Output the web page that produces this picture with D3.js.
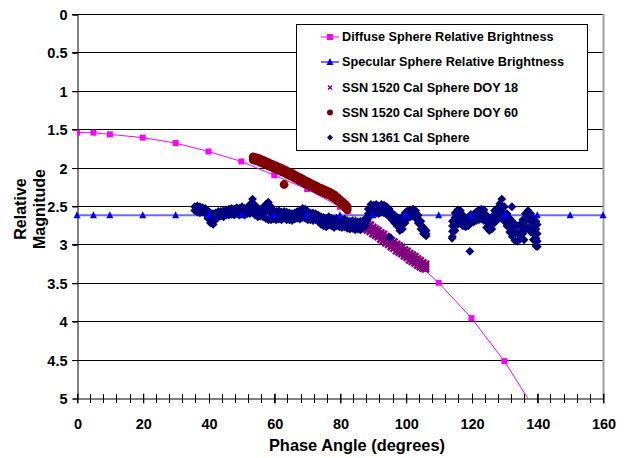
<!DOCTYPE html>
<html><head><meta charset="utf-8">
<script src="https://cdn.jsdelivr.net/npm/d3@7"></script>
<style>body{margin:0;background:#fff}text{font-family:"Liberation Sans",Arial,sans-serif;font-weight:bold;fill:#000}</style>
</head><body>
<svg id="c" width="626" height="458"></svg>
<script>
// ---- data ----
const xTickValues = [0,20,40,60,80,100,120,140,160];
const yTickValues = [0,0.5,1,1.5,2,2.5,3,3.5,4,4.5,5];
const modelPhase = [0,5,10,20,30,40,50,60,70,80,90,100,110,120,130,140,150,160];
const diffuseMag = [1.545,1.545,1.567,1.61,1.68,1.79,1.92,2.10,2.28,2.51,2.79,3.11,3.50,3.96,4.52,5.2];
const specularMag = [2.62,2.62,2.62,2.62,2.62,2.62,2.62,2.62,2.62,2.62,2.62,2.62,2.62,2.62,2.62,2.62,2.62,2.62];
const seriesNames = ["Diffuse Sphere Relative Brightness","Specular Sphere Relative Brightness","SSN 1520 Cal Sphere DOY 18","SSN 1520 Cal Sphere DOY 60","SSN 1361 Cal Sphere"];
// observed: [phase, magnitude, magnitude, ...]
const doy18 = [[87.6,2.71,2.75,2.79],[88.4,2.73,2.77,2.81],[89.2,2.75,2.79,2.83],[90.0,2.78,2.82,2.86],[90.8,2.80,2.84,2.88],[91.6,2.82,2.86,2.90],[92.4,2.85,2.89,2.93],[93.2,2.87,2.91,2.95],[94.0,2.90,2.94,2.98],[94.8,2.92,2.96,3.00],[95.6,2.95,2.99,3.03],[96.4,2.97,3.01,3.05],[97.2,3.00,3.04,3.08],[98.0,3.02,3.06,3.10],[98.8,3.04,3.08,3.12],[99.6,3.07,3.11,3.15],[100.4,3.09,3.13,3.17],[101.2,3.12,3.16,3.20],[102.0,3.14,3.18,3.22],[102.8,3.16,3.20,3.24],[103.6,3.19,3.23,3.27],[104.4,3.21,3.25,3.29],[105.2,3.24,3.28,3.31],[106.0,3.26,3.29,3.32]];
const doy60 = [[53.6,1.86,1.90],[54.4,1.87,1.91],[55.2,1.88,1.92],[56.0,1.895,1.935],[56.8,1.91,1.95],[57.6,1.925,1.965],[58.4,1.94,1.98],[59.2,1.955,1.995],[60.0,1.97,2.01],[60.8,1.985,2.025],[61.6,2.00,2.04],[62.4,2.015,2.055],[63.2,2.03,2.07],[64.0,2.05,2.09],[64.8,2.065,2.105],[65.6,2.08,2.12],[66.4,2.10,2.14],[67.2,2.12,2.16],[68.0,2.135,2.175],[68.8,2.155,2.195],[69.6,2.175,2.215],[70.4,2.19,2.23],[71.2,2.21,2.25],[72.0,2.225,2.265],[72.8,2.24,2.28],[73.6,2.26,2.30],[74.4,2.275,2.315],[75.2,2.29,2.33],[76.0,2.305,2.345],[76.8,2.32,2.36],[77.6,2.34,2.38],[78.4,2.36,2.40],[79.2,2.39,2.43],[80.0,2.42,2.46],[80.8,2.45,2.49],[81.6,2.48,2.52],[82.2,2.51,2.55],[63.0,2.22]];
const ssn1361 = [
[35.8,2.51,2.56],[36.6,2.50,2.54,2.58],[37.4,2.51,2.55,2.59],[38.2,2.52,2.55,2.58],[39.0,2.53,2.56,2.60],[39.8,2.56,2.61,2.66],[40.6,2.59,2.65,2.72],[41.4,2.60,2.67,2.74],[42.2,2.59,2.63,2.68],[43.0,2.57,2.60,2.64],[43.8,2.57,2.60,2.63],[44.6,2.56,2.60,2.64],[45.4,2.56,2.59,2.62],[46.2,2.54,2.58,2.62],[47.0,2.53,2.57,2.61],[47.8,2.54,2.58,2.62],[48.6,2.52,2.56,2.60],[49.4,2.53,2.57,2.62],[50.2,2.51,2.56,2.60],[51.0,2.53,2.57,2.62],[51.8,2.52,2.56,2.60],[52.6,2.48,2.54,2.60],[53.4,2.41,2.50,2.58],[54.2,2.49,2.55,2.62],[55.0,2.53,2.58,2.64],[55.8,2.54,2.58,2.63],[56.6,2.52,2.58,2.64],[57.4,2.48,2.57,2.66],[58.2,2.45,2.56,2.68],[59.0,2.51,2.60,2.68],[59.8,2.56,2.62,2.67],[60.6,2.57,2.62,2.68],[61.4,2.56,2.62,2.67],[62.2,2.58,2.63,2.68],[63.0,2.57,2.62,2.66],[63.8,2.58,2.63,2.68],[64.6,2.59,2.64,2.68],[65.4,2.60,2.64,2.69],[66.2,2.59,2.63,2.67],[67.0,2.57,2.62,2.66],[67.8,2.56,2.62,2.67],[68.6,2.53,2.59,2.65],[69.4,2.54,2.60,2.66],[70.2,2.57,2.62,2.68],[71.0,2.59,2.64,2.68],[71.8,2.59,2.64,2.69],[72.6,2.60,2.64,2.68],[73.4,2.62,2.66,2.70],[74.2,2.64,2.69,2.74],[75.0,2.65,2.70,2.76],[75.8,2.66,2.72,2.77],[76.6,2.64,2.70,2.75],[77.4,2.66,2.71,2.76],[78.2,2.67,2.72,2.78],[79.0,2.66,2.71,2.76],[79.8,2.67,2.72,2.77],[80.6,2.68,2.73,2.78],[81.4,2.67,2.72,2.77],[82.2,2.69,2.74,2.79],[83.0,2.70,2.75,2.80],[83.8,2.69,2.74,2.79],[84.6,2.70,2.76,2.81],[85.4,2.71,2.76,2.80],[86.2,2.70,2.76,2.81],[87.0,2.70,2.74,2.79],[87.8,2.66,2.71,2.76],[88.6,2.54,2.60,2.66],[89.4,2.48,2.54,2.60],[90.2,2.49,2.54,2.58],[91.0,2.48,2.54,2.59],[91.8,2.50,2.55,2.60],[92.6,2.48,2.53,2.58],[93.4,2.49,2.54,2.59],[94.2,2.51,2.56,2.61],[95.0,2.54,2.59,2.64],[95.8,2.59,2.64,2.68],[96.6,2.62,2.67,2.72],[97.4,2.65,2.70,2.76],[98.2,2.66,2.74,2.82],[99.0,2.64,2.72,2.80],[99.8,2.59,2.66,2.72],[100.6,2.56,2.61,2.66],[101.4,2.55,2.60,2.64],[102.2,2.54,2.59,2.63],[103.0,2.56,2.61,2.66],[103.8,2.62,2.67,2.72],[104.6,2.70,2.75,2.80],[105.4,2.78,2.82,2.86],[106.2,2.82,2.86,2.89],[95.2,2.91],
[114.2,2.70,2.76,2.83,2.90],[115.0,2.59,2.65,2.72,2.82],[115.8,2.55,2.62,2.68,2.74],[116.6,2.56,2.63,2.69,2.73],[117.4,2.62,2.68,2.76],[118.2,2.66,2.71,2.77],[119.0,2.65,2.70,2.76],[119.8,2.61,2.67,2.72],[120.6,2.61,2.66,2.71],[121.4,2.58,2.64,2.69],[122.2,2.55,2.61,2.68],[123.0,2.54,2.60,2.67],[123.8,2.55,2.62,2.69],[124.6,2.62,2.70,2.78],[125.4,2.66,2.74,2.82],[126.2,2.64,2.72,2.80],[127.0,2.56,2.64,2.72],[127.8,2.53,2.61,2.68],[128.6,2.47,2.56,2.66],[129.2,2.41,2.50,2.58,2.64],[130.0,2.51,2.60,2.70],[130.8,2.60,2.68,2.76],[131.6,2.66,2.75,2.84],[132.4,2.70,2.79,2.90],[133.2,2.74,2.84,2.95],[134.0,2.76,2.86,2.96],[134.8,2.74,2.84,2.93],[135.6,2.68,2.77,2.86],[136.4,2.60,2.70,2.80],[137.2,2.56,2.66,2.78],[138.0,2.60,2.70,2.80,2.84],[138.8,2.66,2.76,2.86,2.94],[139.6,2.70,2.80,2.92,3.02],[140.0,2.74,2.86,2.96,3.03],[119.5,3.09],[132.3,2.51],[136.0,2.94],[114.1,2.92]
];

// ---- chart ----
const svg = d3.select("#c");
const x = d3.scaleLinear().domain([0,160]).range([77,603]);
const y = d3.scaleLinear().domain([0,5]).range([14,398]);
const flat = rows => rows.flatMap(r => r.slice(1).map(v => [r[0], v]));

svg.append("defs").append("clipPath").attr("id","clip")
  .append("rect").attr("x",77).attr("y",14).attr("width",526).attr("height",384);

// gridlines
svg.append("g").selectAll("line").data(yTickValues.slice(0,-1)).join("line")
  .attr("x1",72).attr("x2",603).attr("y1",d=>Math.round(y(d))+0.5).attr("y2",d=>Math.round(y(d))+0.5)
  .attr("stroke","#000").attr("stroke-width",1);
// right border
svg.append("line").attr("x1",603.5).attr("x2",603.5).attr("y1",14).attr("y2",398).attr("stroke","#a0a0a0").attr("stroke-width",2);

// y axis
const yAxis = d3.axisLeft(y).tickValues(yTickValues).tickSize(5).tickPadding(5).tickFormat(d3.format("~g"));
const gy = svg.append("g").attr("transform","translate(77.5,0.5)").call(yAxis);
gy.select(".domain").attr("stroke","#000");
gy.selectAll("text").style("font-size","14.5px").attr("dy","0.35em");

// x axis (minor ticks every 4, major every 20, crossing)
const minor = d3.range(0,161,4);
svg.append("g").selectAll("line").data(minor).join("line")
  .attr("x1",d=>Math.round(x(d))+0.5).attr("x2",d=>Math.round(x(d))+0.5).attr("y1",394).attr("y2",403)
  .attr("stroke","#000");
const xAxis = d3.axisBottom(x).tickValues(xTickValues).tickSizeInner(5).tickSizeOuter(0).tickPadding(15);
const gx = svg.append("g").attr("transform","translate(0.5,398.5)").call(xAxis);
gx.select(".domain").attr("stroke","#000");
gx.selectAll(".tick line").attr("y1",-5);
gx.selectAll("text").style("font-size","14.5px");

const plot = svg.append("g").attr("clip-path","url(#clip)");

// Diffuse
const diffusePts = diffuseMag.map((v,i)=>[modelPhase[i],v]);
plot.append("path").datum(diffusePts).attr("fill","none").attr("stroke","#ff00ff").attr("stroke-width",1)
  .attr("d",d3.line().x(d=>x(d[0])).y(d=>y(d[1])));
plot.append("g").selectAll("rect").data(diffusePts).join("rect")
  .attr("x",d=>x(d[0])-3).attr("y",d=>y(d[1])-3).attr("width",6).attr("height",6).attr("fill","#ff00ff");

// Specular
const specPts = specularMag.map((v,i)=>[modelPhase[i],v]);
plot.append("path").datum(specPts).attr("fill","none").attr("stroke","#6a6aff").attr("stroke-width",2)
  .attr("d",d3.line().x(d=>x(d[0])).y(d=>y(d[1])));
const tri = "M0,-4L3.5,3L-3.5,3Z";
svg.append("g").selectAll("path").data(specPts).join("path")
  .attr("transform",d=>`translate(${x(d[0])},${y(d[1])})`).attr("d",tri).attr("fill","#0000ff");

// DOY 18
const xMark = "M-3.5,-3.5L3.5,3.5M-3.5,3.5L3.5,-3.5";
plot.append("g").selectAll("path").data(flat(doy18)).join("path")
  .attr("transform",d=>`translate(${x(d[0])},${y(d[1])})`).attr("d",xMark)
  .attr("stroke","#800080").attr("stroke-width",2.5).attr("fill","none");
// DOY 60
plot.append("g").selectAll("circle").data(flat(doy60)).join("circle")
  .attr("cx",d=>x(d[0])).attr("cy",d=>y(d[1])).attr("r",4.4).attr("fill","#800000");
// SSN 1361
const diamond = "M0,-4.4L4.4,0L0,4.4L-4.4,0Z";
plot.append("g").selectAll("path").data(flat(ssn1361)).join("path")
  .attr("transform",d=>`translate(${x(d[0])},${y(d[1])})`).attr("d",diamond).attr("fill","#000080");

// axis titles
svg.append("text").attr("x",357).attr("y",451).attr("text-anchor","middle").style("font-size","16.4px").text("Phase Angle (degrees)");
const yt = svg.append("text").attr("transform","translate(0,209) rotate(-90)").attr("text-anchor","middle").style("font-size","16px");
yt.append("tspan").attr("x",0).attr("y",26).text("Relative");
yt.append("tspan").attr("x",0).attr("y",45).text("Magnitude");

// legend
const lg = svg.append("g");
lg.append("rect").attr("x",296.5).attr("y",24.5).attr("width",291).attr("height",126).attr("fill","#fff").attr("stroke","#000");
const ly = [37,62,87.5,112.5,137.5];
seriesNames.forEach((n,i)=>{
  lg.append("text").attr("x",342).attr("y",ly[i]).attr("dy","0.35em").style("font-size","12.7px").text(n);
});
lg.append("line").attr("x1",321).attr("x2",339).attr("y1",ly[0]).attr("y2",ly[0]).attr("stroke","#ff00ff");
lg.append("rect").attr("x",327).attr("y",ly[0]-3).attr("width",6).attr("height",6).attr("fill","#ff00ff");
lg.append("line").attr("x1",321).attr("x2",339).attr("y1",ly[1]).attr("y2",ly[1]).attr("stroke","#6a6aff").attr("stroke-width",2);
lg.append("path").attr("transform",`translate(330,${ly[1]})`).attr("d",tri).attr("fill","#0000ff");
lg.append("path").attr("transform",`translate(330,${ly[2]})`).attr("d","M-2,-2L2,2M-2,2L2,-2").attr("stroke","#800080").attr("stroke-width",1.5);
lg.append("circle").attr("cx",330).attr("cy",ly[3]).attr("r",3).attr("fill","#800000");
lg.append("path").attr("transform",`translate(330,${ly[4]})`).attr("d","M0,-3L3,0L0,3L-3,0Z").attr("fill","#000080");
</script>
</body></html>
